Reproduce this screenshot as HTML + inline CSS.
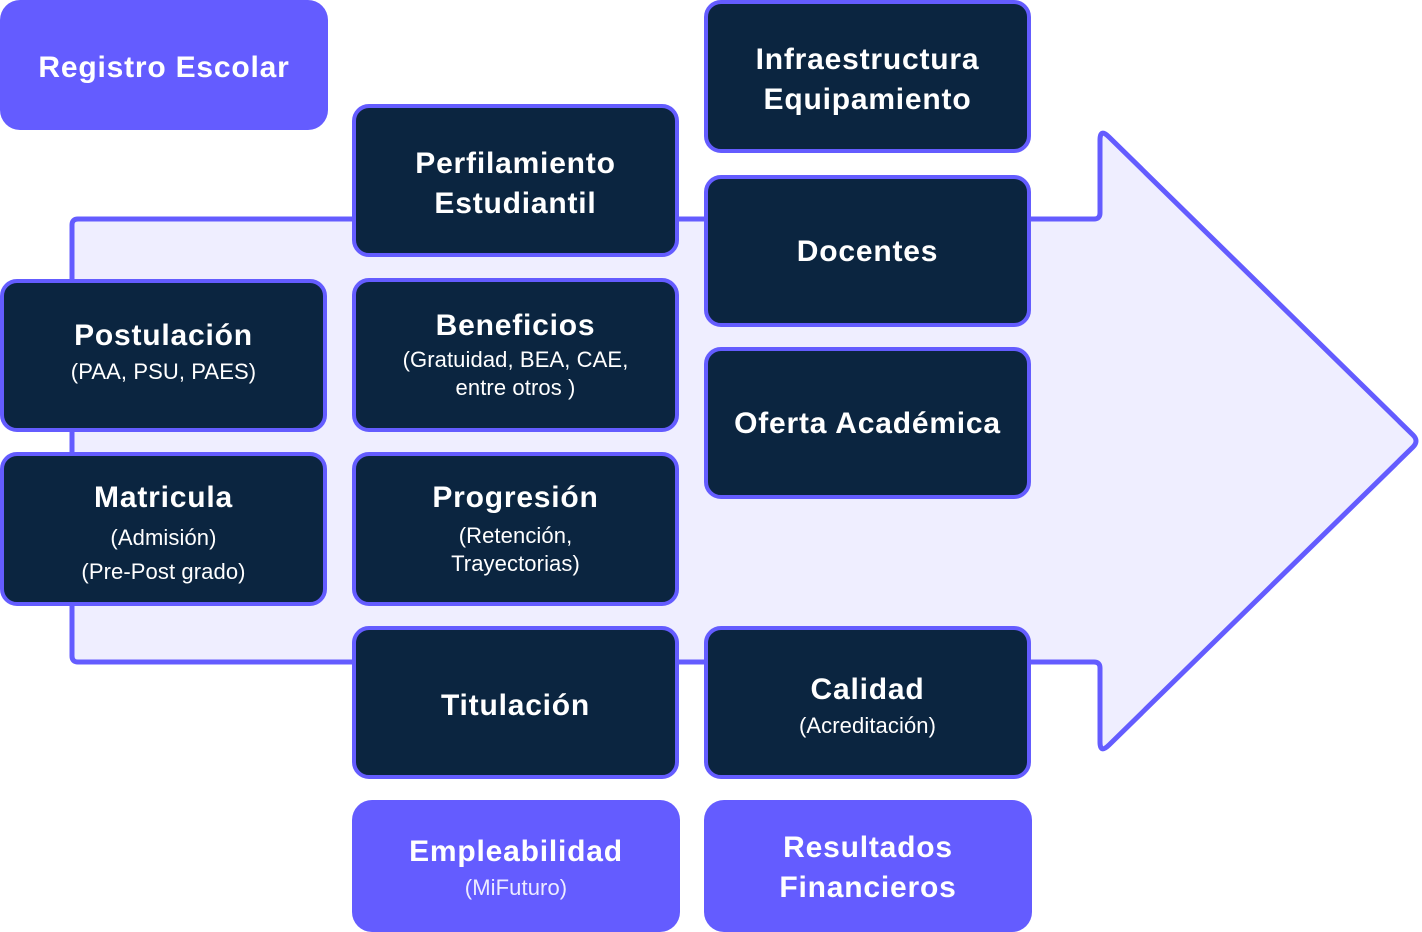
<!DOCTYPE html>
<html>
<head>
<meta charset="utf-8">
<style>
  html,body{margin:0;padding:0;background:#fff;}
  body{width:1422px;height:930px;position:relative;overflow:hidden;font-family:"Liberation Sans",Arial,sans-serif;}
  .box{position:absolute;box-sizing:border-box;background:#0B2540;border:4px solid #645CFF;border-radius:17px;}
  .pbox{position:absolute;box-sizing:border-box;background:#645CFF;border-radius:20px;}
  .t{position:absolute;height:40px;line-height:40px;text-align:center;color:#fff;white-space:nowrap;}
  .h{font-size:30px;font-weight:bold;letter-spacing:0.8px;}
  .s{font-size:22px;font-weight:normal;letter-spacing:0.1px;}
</style>
</head>
<body>
<svg width="1422" height="930" style="position:absolute;left:0;top:0">
  <path d="M 78 219 L 1094 219 Q 1100 219 1100 213 L 1100 140 Q 1100 128 1109 137 L 1413 435 Q 1419 441 1413 447 L 1109 745 Q 1100 754 1100 742 L 1100 668 Q 1100 662 1094 662 L 78 662 Q 72 662 72 656 L 72 225 Q 72 219 78 219 Z" fill="#EFEEFF" stroke="#645CFF" stroke-width="5" stroke-linejoin="round"/>
</svg>

<!-- Purple filled boxes -->
<div class="pbox" style="left:0;top:0;width:328px;height:130px;"></div>
<div class="pbox" style="left:352px;top:800px;width:328px;height:132px;"></div>
<div class="pbox" style="left:704px;top:800px;width:328px;height:132px;"></div>

<!-- Column 1 -->
<div class="box" style="left:0;top:279px;width:327px;height:153px;"></div>
<div class="box" style="left:0;top:452px;width:327px;height:154px;"></div>

<!-- Column 2 -->
<div class="box" style="left:352px;top:104px;width:327px;height:153px;"></div>
<div class="box" style="left:352px;top:278px;width:327px;height:154px;"></div>
<div class="box" style="left:352px;top:452px;width:327px;height:154px;"></div>
<div class="box" style="left:352px;top:626px;width:327px;height:153px;"></div>

<!-- Column 3 -->
<div class="box" style="left:704px;top:0;width:327px;height:153px;"></div>
<div class="box" style="left:704px;top:175px;width:327px;height:152px;"></div>
<div class="box" style="left:704px;top:347px;width:327px;height:152px;"></div>
<div class="box" style="left:704px;top:626px;width:327px;height:153px;"></div>

<!-- Text: Registro -->
<div class="t h" style="left:0;width:328px;top:48px;">Registro Escolar</div>

<!-- Perfilamiento -->
<div class="t h" style="left:352px;width:327px;top:144px;">Perfilamiento</div>
<div class="t h" style="left:352px;width:327px;top:184px;">Estudiantil</div>

<!-- Infraestructura -->
<div class="t h" style="left:704px;width:327px;top:40px;">Infraestructura</div>
<div class="t h" style="left:704px;width:327px;top:80px;">Equipamiento</div>

<!-- Docentes -->
<div class="t h" style="left:704px;width:327px;top:232px;">Docentes</div>

<!-- Postulación -->
<div class="t h" style="left:0;width:327px;top:316px;">Postulación</div>
<div class="t s" style="left:0;width:327px;top:352px;">(PAA, PSU, PAES)</div>

<!-- Beneficios -->
<div class="t h" style="left:352px;width:327px;top:306px;">Beneficios</div>
<div class="t s" style="left:352px;width:327px;top:340px;">(Gratuidad, BEA, CAE,</div>
<div class="t s" style="left:352px;width:327px;top:368px;">entre otros )</div>

<!-- Oferta -->
<div class="t h" style="left:704px;width:327px;top:404px;">Oferta Académica</div>

<!-- Matricula -->
<div class="t h" style="left:0;width:327px;top:478px;">Matricula</div>
<div class="t s" style="left:0;width:327px;top:518px;">(Admisión)</div>
<div class="t s" style="left:0;width:327px;top:552px;">(Pre-Post grado)</div>

<!-- Progresión -->
<div class="t h" style="left:352px;width:327px;top:478px;">Progresión</div>
<div class="t s" style="left:352px;width:327px;top:516px;">(Retención,</div>
<div class="t s" style="left:352px;width:327px;top:544px;">Trayectorias)</div>

<!-- Titulación -->
<div class="t h" style="left:352px;width:327px;top:686px;">Titulación</div>

<!-- Calidad -->
<div class="t h" style="left:704px;width:327px;top:670px;">Calidad</div>
<div class="t s" style="left:704px;width:327px;top:706px;">(Acreditación)</div>

<!-- Empleabilidad -->
<div class="t h" style="left:352px;width:328px;top:832px;">Empleabilidad</div>
<div class="t s" style="left:352px;width:328px;top:868px;color:#EDEBFF;">(MiFuturo)</div>

<!-- Resultados -->
<div class="t h" style="left:704px;width:328px;top:828px;">Resultados</div>
<div class="t h" style="left:704px;width:328px;top:868px;">Financieros</div>
</body>
</html>
